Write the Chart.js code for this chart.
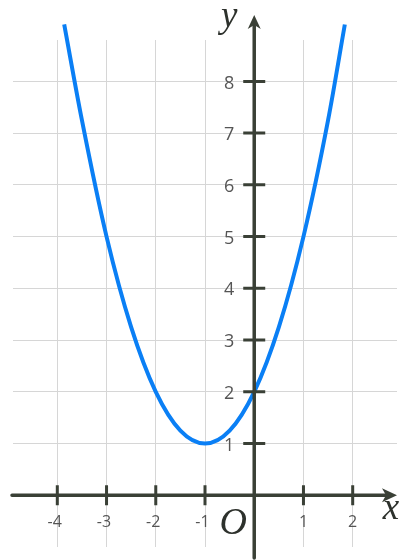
<!DOCTYPE html>
<html>
<head>
<meta charset="utf-8">
<script src="https://cdn.jsdelivr.net/npm/chart.js@4.4.1/dist/chart.umd.min.js"></script>
<style>
  html, body { margin: 0; padding: 0; background: #fff; }
  canvas { display: block; }
</style>
</head>
<body>
<canvas id="chart" width="401" height="560"></canvas>
<script>
// values
const xTicks = [-4, -3, -2, -1, 1, 2];
const yTicks = [1, 2, 3, 4, 5, 6, 7, 8];
const curveX = [-3.86, -3.5, -3, -2.5, -2, -1.5, -1, -0.5, 0, 0.5, 1, 1.5, 1.84];
const curveY = [9.1, 7.25, 5, 3.25, 2, 1.25, 1, 1.25, 2, 3.25, 5, 7.25, 9.1];

const axisColor = '#3a4036';
const labelColor = '#555';

const axesPlugin = {
  id: 'axes',
  afterDatasetsDraw(chart) {
    const { ctx, chartArea: a, scales: { x, y } } = chart;
    const x0 = x.getPixelForValue(0);
    const y0 = y.getPixelForValue(0);
    ctx.save();
    ctx.strokeStyle = axisColor;
    ctx.fillStyle = axisColor;

    // axis lines
    ctx.lineWidth = 3.5;
    ctx.lineCap = 'round';
    ctx.beginPath();
    ctx.moveTo(a.left - 1, y0);
    ctx.lineTo(a.right - 8, y0);
    ctx.moveTo(x0, a.bottom + 11);
    ctx.lineTo(x0, a.top - 14);
    ctx.stroke();

    // arrow heads
    const tipX = a.right, tipY = a.top - 25;
    ctx.beginPath();
    ctx.moveTo(tipX, y0);
    ctx.lineTo(tipX - 15, y0 - 7);
    ctx.lineTo(tipX - 11, y0);
    ctx.lineTo(tipX - 15, y0 + 7);
    ctx.closePath();
    ctx.fill();
    ctx.beginPath();
    ctx.moveTo(x0, tipY);
    ctx.lineTo(x0 - 6.5, tipY + 14);
    ctx.lineTo(x0, tipY + 10);
    ctx.lineTo(x0 + 6.5, tipY + 14);
    ctx.closePath();
    ctx.fill();

    // tick marks across the axes
    ctx.lineWidth = 3;
    ctx.lineCap = 'butt';
    ctx.beginPath();
    xTicks.forEach(v => {
      const px = x.getPixelForValue(v);
      ctx.moveTo(px, y0 - 10);
      ctx.lineTo(px, y0 + 10);
    });
    yTicks.forEach(v => {
      const py = y.getPixelForValue(v);
      ctx.moveTo(x0 - 11, py);
      ctx.lineTo(x0 + 11, py);
    });
    ctx.stroke();

    // tick labels
    ctx.fillStyle = labelColor;
    ctx.font = '16px "Open Sans"';
    ctx.textAlign = 'center';
    ctx.textBaseline = 'middle';
    const minusW = ctx.measureText('-').width;
    xTicks.forEach(v => {
      const px = x.getPixelForValue(v);
      ctx.fillText(String(v), v < 0 ? px - minusW / 2 : px, y0 + 27);
    });
    ctx.font = '18px "Open Sans"';
    ctx.textAlign = 'right';
    yTicks.forEach(v => {
      ctx.fillText(String(v), x0 - 20, y.getPixelForValue(v) + 2);
    });

    // axis names and origin
    ctx.fillStyle = '#2d312c';
    ctx.font = 'italic 37px "Liberation Serif"';
    ctx.textAlign = 'center';
    ctx.textBaseline = 'alphabetic';
    ctx.fillText('y', x0 - 25, 27);
    ctx.fillText('x', a.right - 6, y0 + 24);
    ctx.font = 'italic 38px "Liberation Serif"';
    ctx.fillText('O', x0 - 21, y0 + 39);
    ctx.restore();
  }
};

new Chart(document.getElementById('chart'), {
  type: 'line',
  data: {
    datasets: [{
      data: curveX.map((v, i) => ({ x: v, y: curveY[i] })),
      borderColor: '#0a7ff5',
      borderWidth: 4,
      pointRadius: 0,
      cubicInterpolationMode: 'monotone',
      clip: false,
    }],
  },
  options: {
    responsive: false,
    animation: false,
    devicePixelRatio: 1,
    layout: { padding: { left: 13, right: 4, top: 40, bottom: 13 } },
    plugins: { legend: { display: false }, tooltip: { enabled: false } },
    scales: {
      x: {
        type: 'linear',
        min: -4.9,
        max: 2.9,
        afterBuildTicks: s => { s.ticks = xTicks.map(v => ({ value: v })); },
        ticks: { display: false },
        grid: { color: '#d6d6d6', lineWidth: 1, drawTicks: false },
        border: { display: false },
      },
      y: {
        type: 'linear',
        min: -1,
        max: 8.8,
        afterBuildTicks: s => { s.ticks = yTicks.map(v => ({ value: v })); },
        ticks: { display: false },
        grid: { color: '#d6d6d6', lineWidth: 1, drawTicks: false },
        border: { display: false },
      },
    },
  },
  plugins: [axesPlugin],
});
</script>
</body>
</html>
